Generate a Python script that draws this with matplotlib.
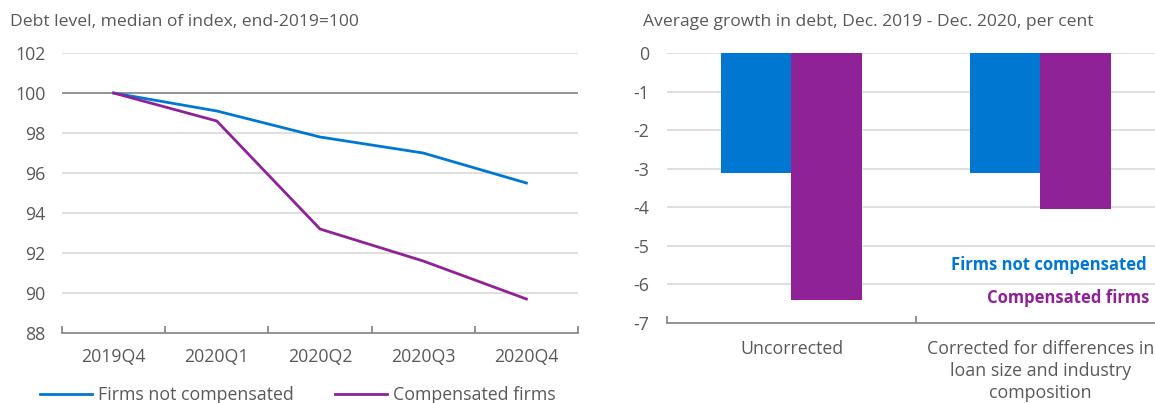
import matplotlib.pyplot as plt
import numpy as np

plt.rcParams['font.family'] = ['Open Sans', 'DejaVu Sans']
plt.rcParams['axes.unicode_minus'] = False

# left panel: debt level index
quarters = ["2019Q4", "2020Q1", "2020Q2", "2020Q3", "2020Q4"]
not_comp = [100.0, 99.1, 97.8, 97.0, 95.5]
comp = [100.0, 98.6, 93.2, 91.6, 89.7]

# right panel: average growth in debt
groups = ["Uncorrected", "Corrected for differences in\nloan size and industry\ncomposition"]
growth_not_comp = [-3.1, -3.1]
growth_comp = [-6.4, -4.05]

blue = '#0078D2'
purple = '#8E2296'
grey_txt = '#595959'
grid_c = '#D9D9D9'
fs = 12.8

fig = plt.figure(figsize=(11.55, 4.03), dpi=100)

# ---- left ----
ax1 = fig.add_axes([62/1155, 1-333/403, (578-62)/1155, (333-53)/403])
x = np.arange(len(quarters))
l1, = ax1.plot(x, not_comp, color=blue, lw=2, label="Firms not compensated")
l2, = ax1.plot(x, comp, color=purple, lw=2, label="Compensated firms")
ax1.set_xlim(-0.5, 4.5)
ax1.set_ylim(88, 102)
ax1.set_yticks(range(88, 103, 2))
ax1.set_xticks(x)
ax1.set_xticklabels(quarters)
ax1.set_xticks(np.arange(-0.5, 4.6, 1), minor=True)
for yv in range(90, 103, 2):
    ax1.axhline(yv, color='#808080' if yv == 100 else grid_c, lw=1.2, zorder=0)
for s in ['top', 'right', 'left']:
    ax1.spines[s].set_visible(False)
ax1.spines['bottom'].set_color('#808080')
ax1.spines['bottom'].set_linewidth(1.2)
ax1.tick_params(axis='y', length=0, pad=12, labelsize=fs, labelcolor=grey_txt)
ax1.tick_params(axis='x', which='major', length=0, pad=11, labelsize=fs, labelcolor=grey_txt)
ax1.tick_params(axis='x', which='minor', direction='in', length=5, color='#808080', width=1.2)
fig.text(10/1155, 1-22/403, "Debt level, median of index, end-2019=100", fontsize=12.6,
         color=grey_txt, va='center', ha='left')

# legend, one entry each (cut at the bottom edge as in the original)
for h, xpos in [(l1, 40), (l2, 335)]:
    fig.legend(handles=[h], loc='center left', bbox_to_anchor=(xpos/1155, 1-395/403),
               frameon=False, fontsize=fs, labelcolor=grey_txt, handlelength=2.9,
               handletextpad=0.35, borderpad=0, borderaxespad=0)

# ---- right ----
ax2 = fig.add_axes([667/1155, 1-323/403, (1155-667)/1155, (323-53)/403])
xg = np.arange(len(groups))
w = 0.285
ax2.bar(xg - w/2, growth_not_comp, width=w, color=blue, zorder=2)
ax2.bar(xg + w/2, growth_comp, width=w, color=purple, zorder=2)
ax2.set_xlim(-0.5, 1.46)
ax2.set_ylim(-7, 0)
ax2.set_yticks(range(-7, 1))
for yv in range(-6, 1):
    ax2.axhline(yv, color=grid_c, lw=1.2, zorder=0)
ax2.set_xticks(xg)
ax2.set_xticklabels(groups, linespacing=1.3)
ax2.set_xticks([-0.5, 0.5], minor=True)
for s in ['top', 'right', 'left']:
    ax2.spines[s].set_visible(False)
ax2.spines['bottom'].set_color('#808080')
ax2.spines['bottom'].set_linewidth(1.2)
ax2.tick_params(axis='y', length=0, pad=13, labelsize=fs, labelcolor=grey_txt)
ax2.tick_params(axis='x', which='major', length=0, pad=12, labelsize=fs, labelcolor=grey_txt)
ax2.tick_params(axis='x', which='minor', direction='in', length=5, color='#808080', width=1.2)
fig.text(643/1155, 1-22/403, "Average growth in debt, Dec. 2019 - Dec. 2020, per cent",
         fontsize=12.6, color=grey_txt, va='center', ha='left')
ax2.text(1147/1155, 1-265/403, "Firms not compensated", transform=fig.transFigure,
         ha='right', va='center', fontsize=12, fontweight='bold', color=blue)
ax2.text(1149/1155, 1-298/403, "Compensated firms", transform=fig.transFigure,
         ha='right', va='center', fontsize=12, fontweight='bold', color=purple)

fig.savefig('out.png', dpi=100)
